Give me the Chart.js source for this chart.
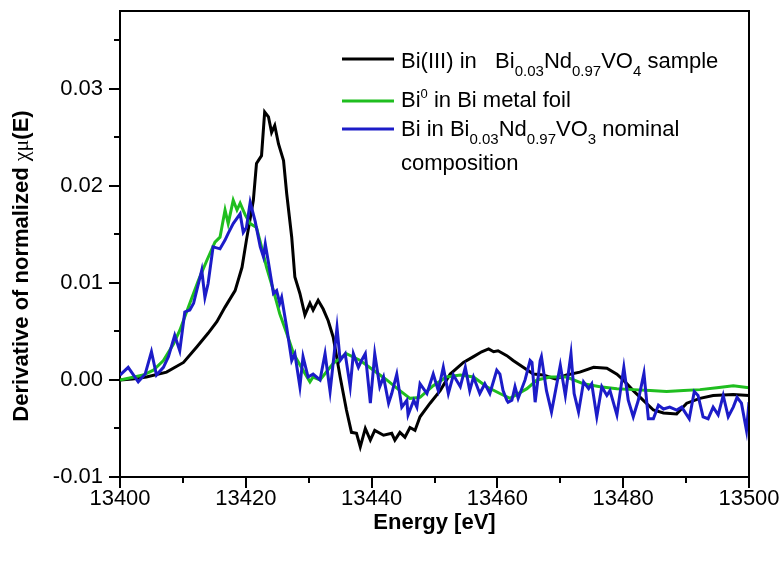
<!DOCTYPE html>
<html>
<head>
<meta charset="utf-8">
<script src="https://cdn.jsdelivr.net/npm/chart.js@4.4.1/dist/chart.umd.min.js"></script>
<style>
  body { margin: 0; background: #fff; }
</style>
</head>
<body>
<canvas id="chart" width="783" height="561"></canvas>
<script>
/*
 data
 */
var blackE = [13400.0, 13402.0, 13404.2, 13407.4, 13410.1, 13412.2, 13414.0, 13415.4, 13416.7, 13418.3,
  13419.4, 13420.1, 13421.2, 13421.7, 13422.5, 13423.0, 13423.6, 13424.1, 13424.6, 13425.2,
  13426.0, 13426.5, 13427.3, 13427.8, 13428.6, 13429.4, 13430.2, 13430.7, 13431.5, 13432.3,
  13433.1, 13433.9, 13435.0, 13436.0, 13436.8, 13437.6, 13438.2, 13439.0, 13439.8, 13440.5,
  13441.9, 13443.2, 13443.7, 13444.5, 13445.3, 13446.1, 13446.9, 13447.7, 13449.3, 13450.9,
  13452.5, 13454.6, 13456.2, 13457.5, 13458.6, 13459.4, 13460.1, 13461.5, 13462.5, 13464.1,
  13465.7, 13467.3, 13469.2, 13471.0, 13473.1, 13475.3, 13477.4, 13479.0, 13480.0, 13481.6,
  13483.2, 13484.8, 13486.4, 13488.5, 13490.1, 13492.2, 13494.3, 13497.5, 13500.0];
var blackY = [0.0000, 0.0001, 0.0003, 0.0008, 0.0018, 0.0034, 0.0048, 0.0060, 0.0075, 0.0092,
  0.0116, 0.0144, 0.0185, 0.0223, 0.0231, 0.0276, 0.0271, 0.0255, 0.0262, 0.0243,
  0.0226, 0.0192, 0.0147, 0.0106, 0.0089, 0.0067, 0.0079, 0.0072, 0.0082, 0.0073,
  0.0061, 0.0044, 0.0003, -0.0031, -0.0054, -0.0055, -0.0069, -0.0050, -0.0062, -0.0052,
  -0.0057, -0.0055, -0.0062, -0.0054, -0.0059, -0.0049, -0.0052, -0.0038, -0.0024, -0.0011,
  0.0006, 0.0018, 0.0024, 0.0029, 0.0032, 0.0029, 0.0030, 0.0025, 0.0020, 0.0013,
  0.0006, 0.0005, 0.0001, 0.0005, 0.0008, 0.0013, 0.0012, 0.0006, 0.0000, -0.0011,
  -0.0021, -0.0031, -0.0034, -0.0035, -0.0024, -0.0019, -0.0016, -0.0015, -0.0016];

var greenE = [13400.0, 13403.7, 13405.3, 13406.9, 13408.5, 13409.5, 13411.1, 13412.5, 13413.8, 13415.1,
  13415.9, 13416.7, 13417.2, 13418.0, 13418.6, 13419.1, 13419.9, 13420.7, 13421.7, 13422.5,
  13423.3, 13424.4, 13425.4, 13426.5, 13427.6, 13429.1, 13430.2, 13430.7, 13431.8, 13433.9,
  13436.0, 13438.2, 13440.3, 13442.4, 13444.5, 13446.1, 13447.7, 13449.8, 13451.9, 13454.1,
  13456.2, 13458.3, 13460.4, 13462.0, 13464.7, 13466.3, 13468.4, 13471.0, 13473.7, 13476.3,
  13479.0, 13481.6, 13484.3, 13486.9, 13489.6, 13492.2, 13494.9, 13497.5, 13500.0];
var greenY = [0.0000, 0.0005, 0.0010, 0.0020, 0.0037, 0.0051, 0.0079, 0.0103, 0.0123, 0.0142,
  0.0147, 0.0175, 0.0161, 0.0185, 0.0175, 0.0182, 0.0170, 0.0161, 0.0157, 0.0137,
  0.0116, 0.0092, 0.0068, 0.0048, 0.0027, 0.0010, -0.0002, 0.0003, 0.0000, 0.0017,
  0.0027, 0.0020, 0.0010, 0.0000, -0.0011, -0.0019, -0.0018, -0.0006, 0.0003, 0.0005,
  0.0003, -0.0007, -0.0014, -0.0019, -0.0009, 0.0000, 0.0003, 0.0003, -0.0004, -0.0007,
  -0.0009, -0.0010, -0.0011, -0.0012, -0.0011, -0.0010, -0.0008, -0.0006, -0.0008];

var blueE = [13400.0, 13401.3, 13402.9, 13404.0, 13405.0, 13405.8, 13406.9, 13407.7, 13408.7, 13409.5,
  13410.3, 13411.1, 13411.7, 13413.0, 13413.5, 13414.0, 13414.8, 13415.9, 13416.7, 13417.2,
  13418.0, 13419.1, 13419.6, 13420.1, 13420.7, 13421.5, 13422.3, 13422.8, 13423.1, 13423.6,
  13424.4, 13424.9, 13425.4, 13425.7, 13426.5, 13427.3, 13427.8, 13428.6, 13429.1, 13429.9,
  13430.7, 13431.8, 13432.6, 13433.4, 13434.5, 13435.0, 13435.8, 13436.6, 13437.1, 13437.9,
  13438.4, 13439.0, 13439.8, 13440.5, 13441.3, 13441.9, 13442.7, 13443.2, 13444.0, 13444.8,
  13445.6, 13445.8, 13446.7, 13447.2, 13447.7, 13448.8, 13449.8, 13450.6, 13451.4, 13452.2,
  13453.0, 13454.1, 13454.9, 13455.6, 13456.2, 13457.2, 13458.0, 13458.8, 13459.9, 13460.4,
  13460.9, 13461.5, 13461.7, 13462.3, 13462.8, 13463.3, 13464.4, 13465.2, 13465.5, 13466.0,
  13466.8, 13467.0, 13467.8, 13468.6, 13470.0, 13470.8, 13471.7, 13472.2, 13472.9, 13473.7,
  13474.5, 13475.0, 13475.8, 13476.6, 13477.4, 13477.9, 13479.0, 13480.1, 13480.8, 13481.6,
  13482.4, 13483.3, 13484.0, 13484.8, 13485.6, 13486.4, 13487.4, 13488.5, 13489.3, 13490.5,
  13491.3, 13491.9, 13492.7, 13493.5, 13494.3, 13495.1, 13495.9, 13496.7, 13497.5, 13498.1,
  13498.8, 13499.6, 13500.0];
var blueY = [0.0005, 0.0013, -0.0002, 0.0006, 0.0029, 0.0005, 0.0013, 0.0024, 0.0046, 0.0030,
  0.0070, 0.0072, 0.0079, 0.0113, 0.0085, 0.0099, 0.0137, 0.0135, 0.0144, 0.0151,
  0.0161, 0.0171, 0.0152, 0.0157, 0.0183, 0.0163, 0.0137, 0.0127, 0.0140, 0.0121,
  0.0089, 0.0092, 0.0079, 0.0085, 0.0054, 0.0020, 0.0027, -0.0007, 0.0024, 0.0003,
  0.0006, 0.0000, 0.0027, -0.0012, 0.0054, 0.0020, 0.0027, -0.0007, 0.0027, 0.0013,
  0.0020, 0.0027, -0.0024, 0.0027, -0.0007, 0.0003, -0.0024, -0.0014, 0.0006, -0.0028,
  -0.0021, -0.0036, -0.0021, -0.0028, -0.0004, -0.0014, 0.0006, -0.0011, 0.0013, -0.0014,
  0.0005, -0.0007, 0.0013, -0.0011, 0.0003, -0.0014, -0.0004, -0.0014, 0.0010, 0.0006,
  -0.0011, -0.0021, -0.0023, -0.0021, -0.0007, -0.0019, 0.0000, 0.0020, 0.0018, -0.0023,
  0.0020, 0.0024, -0.0011, -0.0033, 0.0015, -0.0016, 0.0027, -0.0014, -0.0033, -0.0002,
  -0.0009, -0.0004, -0.0038, -0.0007, -0.0016, -0.0011, -0.0036, 0.0013, -0.0021, -0.0038,
  -0.0021, 0.0007, -0.0040, -0.0040, -0.0026, -0.0030, -0.0028, -0.0031, -0.0028, -0.0040,
  -0.0012, -0.0016, -0.0038, -0.0040, -0.0028, -0.0036, -0.0016, -0.0038, -0.0028, -0.0018,
  -0.0024, -0.0052, -0.0023];

var xTicksMajor = 20;   // labelled every 20 eV, minor every 10
var yTicksMajor = 0.01; // labelled every 0.01, minor every 0.005

var FONT = '"Liberation Sans", Arial, sans-serif';

function points(es, ys) {
    return es.map(function (e, i) { return {x: e, y: ys[i]}; });
}

// frame on top/right plus outside ticks (long major, short minor)
var frameTicks = {
    id: 'frameTicks',
    afterDraw: function (chart) {
        var ctx = chart.ctx, a = chart.chartArea;
        var x = chart.scales.x, y = chart.scales.y;
        ctx.save();
        ctx.strokeStyle = '#000';
        ctx.lineWidth = 2;
        ctx.beginPath();
        ctx.moveTo(a.left, a.top);
        ctx.lineTo(a.right, a.top);
        ctx.lineTo(a.right, a.bottom);
        x.ticks.forEach(function (t) {
            var px = Math.round(x.getPixelForValue(t.value));
            var major = Math.abs(t.value / xTicksMajor - Math.round(t.value / xTicksMajor)) < 1e-6;
            ctx.moveTo(px, a.bottom);
            ctx.lineTo(px, a.bottom + (major ? 11 : 6));
        });
        y.ticks.forEach(function (t) {
            var py = Math.round(y.getPixelForValue(t.value));
            var major = Math.abs(t.value / yTicksMajor - Math.round(t.value / yTicksMajor)) < 1e-6;
            ctx.moveTo(a.left, py);
            ctx.lineTo(a.left - (major ? 11 : 6), py);
        });
        ctx.stroke();
        ctx.restore();
    }
};

// y title with the chi-mu in a symbol-like face
var yTitle = {
    id: 'yTitle',
    afterDraw: function (chart) {
        var ctx = chart.ctx;
        var parts = [
            ['Derivative of normalized ', 'bold 22px ' + FONT],
            ['\u03c7\u03bc', '22px "Liberation Serif", serif'],
            ['(E)', 'bold 22px ' + FONT]
        ];
        ctx.save();
        var total = 0;
        parts.forEach(function (p) { ctx.font = p[1]; total += ctx.measureText(p[0]).width; });
        ctx.translate(22, 266);
        ctx.rotate(-Math.PI / 2);
        ctx.fillStyle = '#000';
        ctx.textBaseline = 'middle';
        var cx = -total / 2;
        parts.forEach(function (p) {
            ctx.font = p[1];
            ctx.fillText(p[0], cx, 0);
            cx += ctx.measureText(p[0]).width;
        });
        ctx.restore();
    }
};

// legend with sub/superscripts
var legendRows = [
    {color: '#000000', lineY: 59, lines: [{base: 68, parts: [['Bi(III) in   Bi', 0], ['0.03', 1], ['Nd', 0], ['0.97', 1], ['VO', 0], ['4', 1], [' sample', 0]]}]},
    {color: '#1fbe1f', lineY: 101, lines: [{base: 107, parts: [['Bi', 0], ['0', -1], [' in Bi metal foil', 0]]}]},
    {color: '#1c1cc8', lineY: 129, lines: [{base: 136, parts: [['Bi in Bi', 0], ['0.03', 1], ['Nd', 0], ['0.97', 1], ['VO', 0], ['3', 1], [' nominal', 0]]},
                                           {base: 170, parts: [['composition', 0]]}]}
];

var richLegend = {
    id: 'richLegend',
    afterDraw: function (chart) {
        var ctx = chart.ctx;
        ctx.save();
        ctx.fillStyle = '#000';
        ctx.textBaseline = 'alphabetic';
        legendRows.forEach(function (row) {
            ctx.strokeStyle = row.color;
            ctx.lineWidth = 3;
            ctx.beginPath();
            ctx.moveTo(342, row.lineY);
            ctx.lineTo(394, row.lineY);
            ctx.stroke();
            row.lines.forEach(function (ln) {
                var cx = 401;
                ln.parts.forEach(function (p) {
                    var dy = 0;
                    if (p[1] === 0) ctx.font = '22px ' + FONT;
                    else if (p[1] === 1) { ctx.font = '15px ' + FONT; dy = 8; }
                    else { ctx.font = '13px ' + FONT; dy = -9; }
                    ctx.fillText(p[0], cx, ln.base + dy);
                    cx += ctx.measureText(p[0]).width;
                });
            });
        });
        ctx.restore();
    }
};

var config = {
    type: 'line',
    data: {
        datasets: [{
            label: 'Bi(III) in Bi0.03Nd0.97VO4 sample',
            data: points(blackE, blackY),
            borderColor: '#000000',
            order: 3
        }, {
            label: 'Bi0 in Bi metal foil',
            data: points(greenE, greenY),
            borderColor: '#1fbe1f',
            order: 2
        }, {
            label: 'Bi in Bi0.03Nd0.97VO3 nominal composition',
            data: points(blueE, blueY),
            borderColor: '#1c1cc8',
            order: 1
        }]
    },
    options: {
        responsive: false,
        animation: false,
        layout: {padding: {top: 11, right: 34, left: 0, bottom: 0}},
        elements: {
            point: {radius: 0},
            line: {borderWidth: 3, tension: 0, fill: false}
        },
        plugins: {
            legend: {display: false},
            tooltip: {enabled: false}
        },
        scales: {
            x: {
                type: 'linear',
                min: 13400,
                max: 13500,
                grid: {display: false, drawTicks: false},
                border: {display: true, color: '#000', width: 2},
                ticks: {
                    stepSize: 10,
                    autoSkip: false,
                    maxRotation: 0,
                    padding: 9,
                    color: '#000',
                    font: {family: FONT, size: 22},
                    callback: function (v) {
                        return Math.abs(v / xTicksMajor - Math.round(v / xTicksMajor)) < 1e-6 ? String(v) : '';
                    }
                },
                title: {
                    display: true,
                    text: 'Energy [eV]',
                    color: '#000',
                    font: {family: FONT, size: 22, weight: 'bold'},
                    padding: {top: 0, bottom: 25}
                },
                afterFit: function (s) { s.height = 84; s.paddingLeft = 0; s.paddingRight = 0; }
            },
            y: {
                type: 'linear',
                min: -0.01,
                max: 0.038,
                grid: {display: false, drawTicks: false},
                border: {display: true, color: '#000', width: 2},
                ticks: {
                    stepSize: 0.005,
                    includeBounds: false,
                    autoSkip: false,
                    padding: 17,
                    color: '#000',
                    font: {family: FONT, size: 22},
                    callback: function (v) {
                        if (Math.abs(v / yTicksMajor - Math.round(v / yTicksMajor)) > 1e-6) return '';
                        return (Math.round(v * 100) / 100).toFixed(2);
                    }
                },
                afterFit: function (s) { s.width = 120; s.paddingTop = 0; s.paddingBottom = 0; }
            }
        }
    },
    plugins: [frameTicks, yTitle, richLegend]
};

var ctx = document.getElementById('chart').getContext('2d');
var chart = new Chart(ctx, config);
</script>
</body>
</html>
